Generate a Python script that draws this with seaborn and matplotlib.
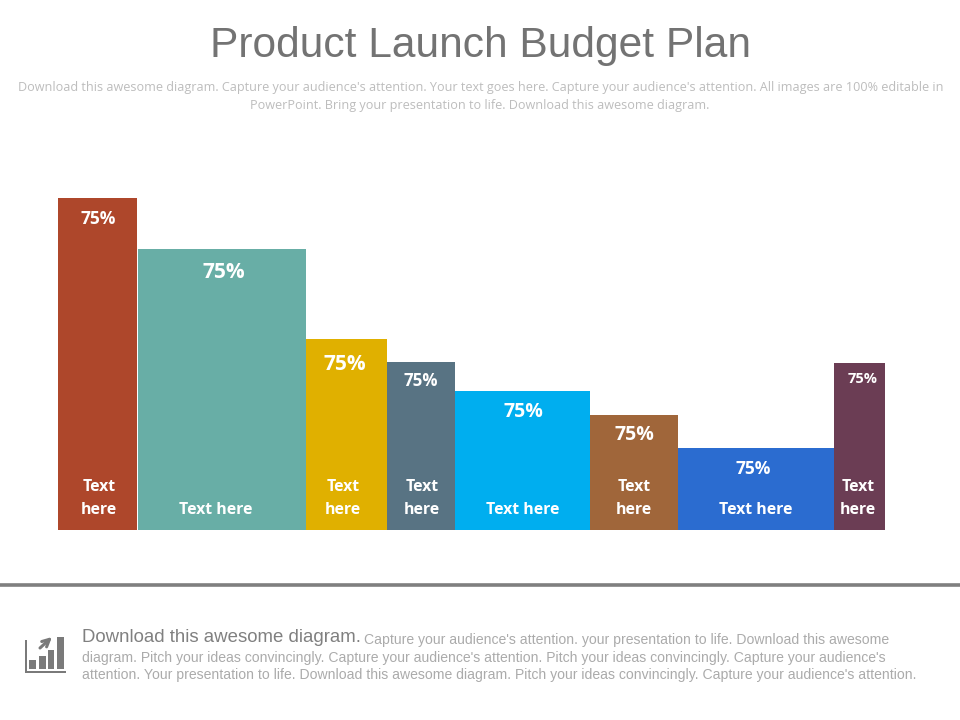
"""Product Launch Budget Plan - variable width bar chart"""
import matplotlib
matplotlib.use('Agg')
import matplotlib.pyplot as plt
from matplotlib.patches import Rectangle
import seaborn as sns

# ── Data ───────────────────────────────────────────────────────────────────────
bar_ids = ['a', 'b', 'c', 'd', 'e', 'f', 'g', 'h']
heights = [332, 281, 191, 168, 139, 115, 82, 167]
widths = [80, 168, 81, 68, 135, 88, 156, 51]
colors = ['#AE472B', '#68AEA6', '#E0B000', '#587383',
          '#00AEEF', '#A0663A', '#2B6CD0', '#6B3D54']
value_labels = ['75%'] * 8
bar_labels = ['Text\nhere', 'Text here', 'Text\nhere', 'Text\nhere',
              'Text here', 'Text\nhere', 'Text here', 'Text\nhere']

TITLE = 'Product Launch Budget Plan'
SUB_1 = ("Download this awesome diagram. Capture your audience's attention. Your text goes here. "
         "Capture your audience's attention. All images are 100% editable in")
SUB_2 = "PowerPoint. Bring your presentation to life. Download this awesome diagram."
FOOT_HEAD = 'Download this awesome diagram.'
FOOT_1 = "Capture your audience's attention. your presentation to life. Download this awesome"
FOOT_2 = ("diagram. Pitch your ideas convincingly. Capture your audience's attention. "
          "Pitch your ideas convincingly. Capture your audience's")
FOOT_3 = ("attention. Your presentation to life. Download this awesome diagram. "
          "Pitch your ideas convincingly. Capture your audience's attention.")

# ── Style ──────────────────────────────────────────────────────────────────────
sns.set_theme(style='white')
plt.rcParams['font.family'] = ['Liberation Sans', 'DejaVu Sans']

W, H = 960, 720
fig = plt.figure(figsize=(W / 100, H / 100), dpi=100, facecolor='white')


def px(x, y):
    return x / W, 1 - y / H


def put(x, y, s, **kw):
    kw.setdefault('va', 'center')
    kw.setdefault('ha', 'center')
    fig.text(*px(x, y), s, **kw)


# ── Bars ───────────────────────────────────────────────────────────────────────
ax = fig.add_axes([58 / W, (H - 530) / H, sum(widths) / W, max(heights) / H])
sns.barplot(x=bar_ids, y=heights, hue=bar_ids, palette=colors, dodge=False,
            legend=False, saturation=1, width=1, linewidth=0, ax=ax)

# seaborn gives equal widths, so stretch each patch to its own width
left = 0
for patch, w in zip(ax.patches, widths):
    patch.set_x(left)
    patch.set_width(w)
    patch.set_edgecolor('none')
    left += w
ax.set_xlim(0, sum(widths))
ax.set_ylim(0, max(heights))
ax.axis('off')
ax.add_patch(Rectangle((79, 0), 1, max(heights), color='white', lw=0))

# ── Text on bars ───────────────────────────────────────────────────────────────
value_x = [98, 224, 345, 421, 523, 634, 753, 863]
value_y = [219, 272, 365, 381, 412, 435, 469, 379]
value_size = [12.5, 15, 15, 12.2, 14, 14, 12.5, 10.5]
label_x = [99, 216, 343, 422, 523, 634, 756, 858]

for i, txt in enumerate(value_labels):
    put(value_x[i], value_y[i], txt, color='white', fontsize=value_size[i],
        fontweight='bold', family=['Open Sans', 'DejaVu Sans'])
for i, txt in enumerate(bar_labels):
    parts = txt.split('\n')
    if len(parts) == 2:
        put(label_x[i], 487, parts[0], color='white', fontsize=11.4,
            fontweight='bold', family=['Open Sans', 'DejaVu Sans'])
    put(label_x[i], 510, parts[-1], color='white', fontsize=11.4,
        fontweight='bold', family=['Open Sans', 'DejaVu Sans'])

# ── Title block ────────────────────────────────────────────────────────────────
put(480, 46, TITLE, color='#737373', fontsize=30.6)
put(481, 88, SUB_1, color='#BDBDBD', fontsize=9.1, family=['Open Sans', 'DejaVu Sans'])
put(480, 106, SUB_2, color='#BDBDBD', fontsize=9.1, family=['Open Sans', 'DejaVu Sans'])

# ── Footer ─────────────────────────────────────────────────────────────────────
fig.add_artist(plt.Line2D([0, 1], [1 - 585 / H] * 2, color='#7F7F7F', lw=2.6))

put(82, 638, FOOT_HEAD, color='#808080', fontsize=13.4, ha='left')
put(364, 640, FOOT_1, color='#ABABAB', fontsize=10.1, ha='left')
put(82, 658, FOOT_2, color='#ABABAB', fontsize=10.1, ha='left')
put(82, 675, FOOT_3, color='#ABABAB', fontsize=10.1, ha='left')

# small chart icon
icon = '#7A7A7A'
for x0, y0, x1, y1 in [(25, 640, 26.5, 673), (25, 671, 66, 673), (29, 660, 36, 669),
                       (39, 656, 46, 669), (48, 650, 54, 669), (57, 637, 64, 669)]:
    fig.add_artist(Rectangle(px(x0, y1), (x1 - x0) / W, (y1 - y0) / H, color=icon, lw=0))
ann = fig.add_axes([0, 0, 1, 1], facecolor='none')
ann.axis('off')
ann.annotate('', xy=px(52, 637), xytext=px(40, 648), xycoords='figure fraction',
             textcoords='figure fraction',
             arrowprops=dict(arrowstyle='->', color=icon, lw=2.2, mutation_scale=13,
                             shrinkA=0, shrinkB=0))

plt.savefig('out.png', dpi=100)
plt.close()
